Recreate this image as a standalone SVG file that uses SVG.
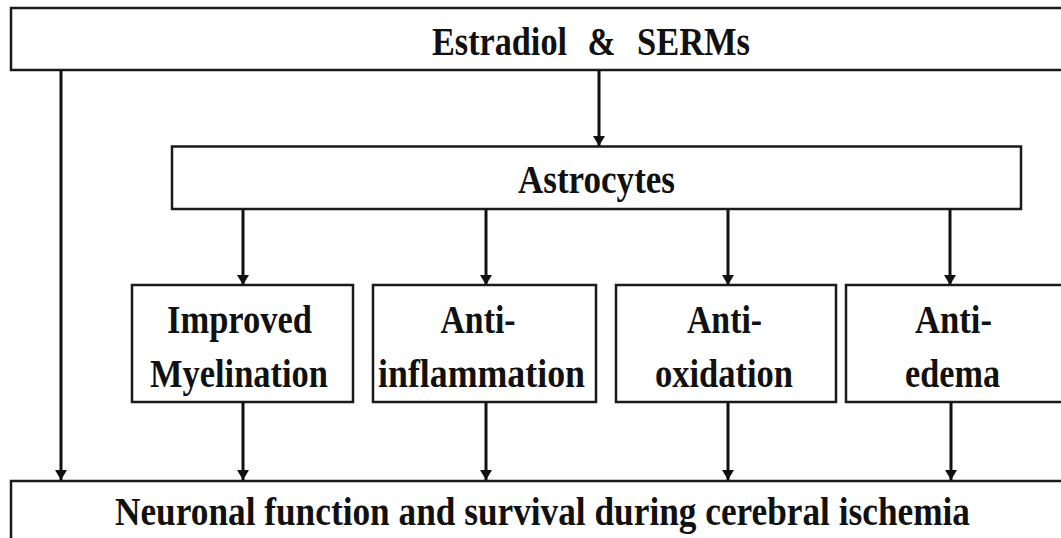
<svg xmlns="http://www.w3.org/2000/svg" width="1061" height="538" viewBox="0 0 1061 538">
<defs>
<style>
.box{fill:#fff;stroke:#1a1a1a;stroke-width:2.5}
.t{font-family:"Liberation Serif","Times New Roman",serif;font-weight:bold;font-size:40px;fill:#111;text-anchor:middle}
.c{stroke:#111;stroke-width:3;fill:none;marker-end:url(#ah)}
</style>
<marker id="ah" viewBox="0 0 10 12" refX="10" refY="6" markerWidth="10" markerHeight="12" markerUnits="userSpaceOnUse" orient="auto">
<path d="M0,0 L10,6 L0,12 Z" fill="#111"/>
</marker>
</defs>
<rect width="1061" height="538" fill="#fff"/>
<g id="estradiol">
<rect class="box" x="11" y="8" width="1070" height="62"/>
<text class="t" x="499.5" y="55" font-size="44" textLength="135" lengthAdjust="spacingAndGlyphs">Estradiol</text>
<text class="t" x="601.5" y="55" font-size="44" textLength="28" lengthAdjust="spacingAndGlyphs">&amp;</text>
<text class="t" x="693.5" y="55" font-size="44" textLength="113" lengthAdjust="spacingAndGlyphs">SERMs</text>
</g>
<g id="astrocytes">
<rect class="box" x="172" y="146.5" width="849" height="62.5"/>
<text class="t" x="596.5" y="193" textLength="157" lengthAdjust="spacingAndGlyphs">Astrocytes</text>
</g>
<g id="myelination">
<rect class="box" x="132" y="285" width="221" height="117"/>
<text class="t" x="239.5" y="333" textLength="145" lengthAdjust="spacingAndGlyphs">Improved</text>
<text class="t" x="239" y="387" textLength="178" lengthAdjust="spacingAndGlyphs">Myelination</text>
</g>
<g id="inflammation">
<rect class="box" x="373" y="285" width="223" height="117"/>
<text class="t" x="478" y="333" textLength="75" lengthAdjust="spacingAndGlyphs">Anti-</text>
<text class="t" x="481.5" y="387" textLength="207" lengthAdjust="spacingAndGlyphs">inflammation</text>
</g>
<g id="oxidation">
<rect class="box" x="616" y="285" width="220" height="117"/>
<text class="t" x="724.5" y="333" textLength="75" lengthAdjust="spacingAndGlyphs">Anti-</text>
<text class="t" x="724" y="387" textLength="138" lengthAdjust="spacingAndGlyphs">oxidation</text>
</g>
<g id="edema">
<rect class="box" x="846" y="285" width="230" height="117"/>
<text class="t" x="953.5" y="333" textLength="77" lengthAdjust="spacingAndGlyphs">Anti-</text>
<text class="t" x="952.5" y="387" textLength="95" lengthAdjust="spacingAndGlyphs">edema</text>
</g>
<g id="neuronal">
<rect class="box" x="11" y="481" width="1070" height="80"/>
<text class="t" x="542.5" y="525" textLength="855" lengthAdjust="spacingAndGlyphs">Neuronal function and survival during cerebral ischemia</text>
</g>
<g id="connectors">
<line class="c" x1="61" y1="70" x2="61" y2="480"/>
<line class="c" x1="599" y1="70" x2="599" y2="146"/>
<line class="c" x1="243" y1="209" x2="243" y2="285"/>
<line class="c" x1="486" y1="209" x2="486" y2="285"/>
<line class="c" x1="728" y1="209" x2="728" y2="285"/>
<line class="c" x1="950" y1="209" x2="950" y2="285"/>
<line class="c" x1="243" y1="402" x2="243" y2="480"/>
<line class="c" x1="486" y1="402" x2="486" y2="480"/>
<line class="c" x1="728" y1="402" x2="728" y2="480"/>
<line class="c" x1="951" y1="402" x2="951" y2="480"/>
</g>
</svg>
